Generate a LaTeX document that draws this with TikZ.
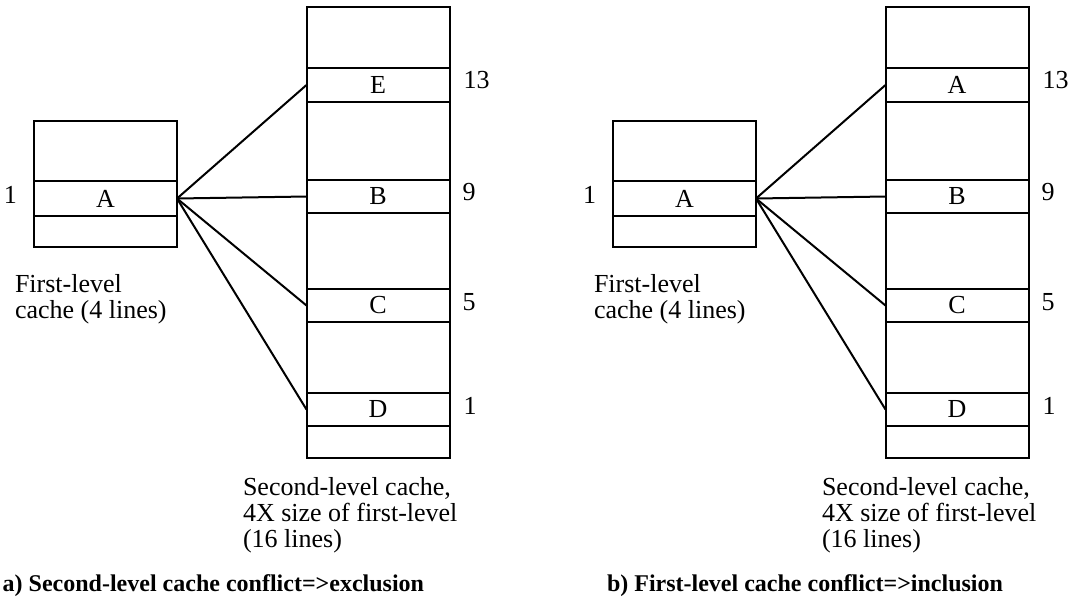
\documentclass[tikz,border=0pt]{standalone}
\usepackage{fontspec}
\setmainfont{Liberation Serif}
\begin{document}
\begin{tikzpicture}[x=1pt,y=-1pt,line width=2pt,
  bigbox/.style={draw,rectangle,minimum width=143pt,inner sep=0pt,outer sep=0pt},
  rowbox/.style={draw,rectangle,minimum width=143pt,inner sep=0pt,outer sep=0pt,font=\fontsize{26}{26}\selectfont},
  num/.style={font=\fontsize{26}{26}\selectfont,inner sep=0pt},
  lbl/.style={font=\fontsize{26}{26}\selectfont,align=left,inner sep=0pt},
  capt/.style={font=\fontsize{24}{24}\selectfont\bfseries,inner sep=0pt},
  conn/.style={line width=2pt}]
\useasboundingbox (0,0) rectangle (1070,598);

% ---------- panel a ----------
\node[bigbox,minimum height=126pt] (fa) at (105.5,184) {};
\node[rowbox,minimum height=35pt] (aA) at (105.5,198.5) {A};
\node[bigbox,minimum height=451pt] (sa) at (378,232.5) {};
\node[rowbox,minimum height=34pt] (aE) at (378,85) {E};
\node[rowbox,minimum height=33pt] (aB) at (378,196.5) {B};
\node[rowbox,minimum height=33pt] (aC) at (378,305.5) {C};
\node[rowbox,minimum height=33pt] (aD) at (378,409.5) {D};

\node[num,anchor=base east] (an1) at ([xshift=-16pt,yshift=-22pt]aA.north west) {1};
\node[num,anchor=base west] (an13) at ([xshift=13pt,yshift=-20pt]aE.north east) {13};
\node[num,anchor=base west] (an9) at ([xshift=12pt,yshift=-20pt]aB.north east) {9};
\node[num,anchor=base west] (an5) at ([xshift=12pt,yshift=-21pt]aC.north east) {5};
\node[num,anchor=base west] (anx1) at ([xshift=13pt,yshift=-21pt]aD.north east) {1};

\draw[conn] (aA.east) -- (aE.west);
\draw[conn] (aA.east) -- (aB.west);
\draw[conn] (aA.east) -- (aC.west);
\draw[conn] (aA.east) -- (aD.west);

\node[lbl,anchor=base west] (afl) at (14,318) {First-level\\cache (4 lines)};
\node[lbl,anchor=base west] (asl) at (242,547) {Second-level cache,\\4X size of first-level\\(16 lines)};
\node[capt,anchor=base east] (acap) at (425,591) {a) Second-level cache conflict=>exclusion};

% ---------- panel b ----------
\node[bigbox,minimum height=126pt] (fb) at (684.5,184) {};
\node[rowbox,minimum height=35pt] (bA) at (684.5,198.5) {A};
\node[bigbox,minimum height=451pt] (sb) at (957,232.5) {};
\node[rowbox,minimum height=34pt] (bE) at (957,85) {A};
\node[rowbox,minimum height=33pt] (bB) at (957,196.5) {B};
\node[rowbox,minimum height=33pt] (bC) at (957,305.5) {C};
\node[rowbox,minimum height=33pt] (bD) at (957,409.5) {D};

\node[num,anchor=base east] (bn1) at ([xshift=-16pt,yshift=-22pt]bA.north west) {1};
\node[num,anchor=base west] (bn13) at ([xshift=13pt,yshift=-20pt]bE.north east) {13};
\node[num,anchor=base west] (bn9) at ([xshift=12pt,yshift=-20pt]bB.north east) {9};
\node[num,anchor=base west] (bn5) at ([xshift=12pt,yshift=-21pt]bC.north east) {5};
\node[num,anchor=base west] (bnx1) at ([xshift=13pt,yshift=-21pt]bD.north east) {1};

\draw[conn] (bA.east) -- (bE.west);
\draw[conn] (bA.east) -- (bB.west);
\draw[conn] (bA.east) -- (bC.west);
\draw[conn] (bA.east) -- (bD.west);

\node[lbl,anchor=base west] (bfl) at (593,318) {First-level\\cache (4 lines)};
\node[lbl,anchor=base west] (bsl) at (821,547) {Second-level cache,\\4X size of first-level\\(16 lines)};
\node[capt,anchor=base west] (bcap) at (606,591) {b) First-level cache conflict=>inclusion};
\end{tikzpicture}
\end{document}
